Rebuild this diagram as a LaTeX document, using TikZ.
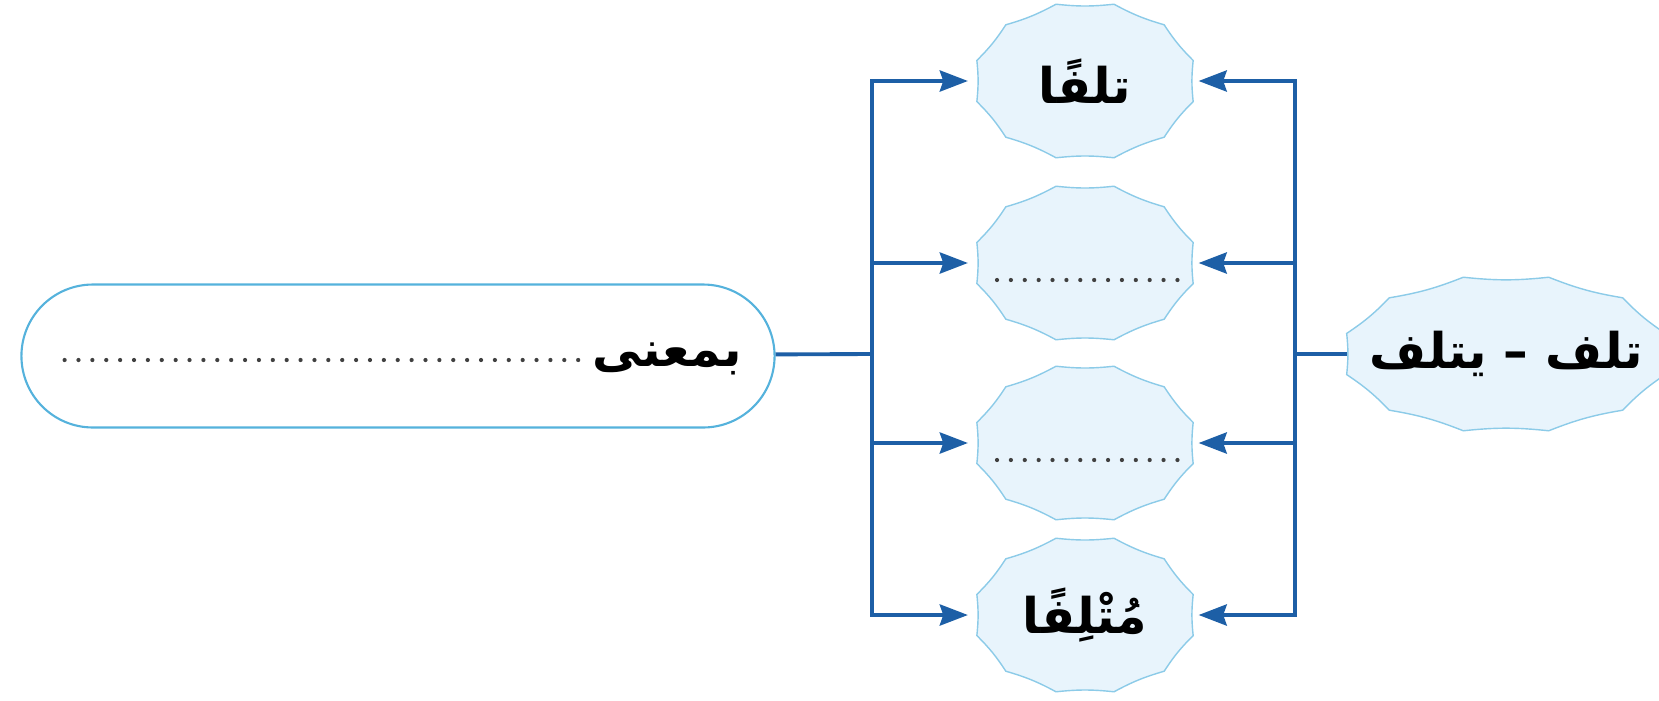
\documentclass[tikz,border=0pt]{standalone}
\usepackage{fontspec}
\newfontfamily\arabicfont[Script=Arabic]{DejaVu Sans}
\TeXXeTstate=1
\usetikzlibrary{arrows.meta,calc,backgrounds,shapes.misc}
\definecolor{leafblue}{HTML}{E8F4FC}
\definecolor{leafedge}{HTML}{8CCBE8}
\definecolor{linkblue}{HTML}{1D5FA6}
\definecolor{boxedge}{HTML}{55B2DC}

\begin{document}
\begin{tikzpicture}[x=0.02cm, y=-0.02cm,
  word/.style={rectangle, inner sep=0pt, minimum width=4.32cm, minimum height=3.1cm,
    font=\arabicfont\bfseries\fontsize{28}{33}\selectfont},
  link/.style={draw=linkblue, line width=2.2pt},
  arr/.style={link, -{Stealth[length=16pt, width=12pt, inset=2pt]}},
  dots/.style={draw=black!75, line width=2.4pt, dash pattern=on 0pt off 7.9pt, line cap=round}]
\useasboundingbox (0,0) rectangle (1659,700);

% the four forms and the verb
\node[word] (w1) at (1085,81) {\beginR تلفًا\endR};
\node[word] (w2) at (1085,263) {};
\node[word] (w3) at (1085,443) {};
\node[word] (w4) at (1085,615) {\beginR مُتْلِفًا\endR};
\node[word, minimum width=6.36cm] (src) at (1506,354) {\beginR تلف – يتلف\endR};

\begin{scope}[on background layer]
\foreach \w/\rx in {w1/2.24,w2/2.24,w3/2.24,w4/2.24,src/3.3}{
  \path[fill=leafblue, draw=leafedge, line width=0.8pt]
    ($(\w)+(15:\rx cm and 1.59cm)$)
    \foreach \k in {1,...,12}{ to[bend left=6] ($(\w)+({15+30*\k}:\rx cm and 1.59cm)$) }
    -- cycle;
}
\end{scope}

\draw[dots] ($(w2)+(-88,17)$) -- ($(w2)+(95,17)$);
\draw[dots] ($(w3)+(-88,17)$) -- ($(w3)+(95,17)$);

% meaning box
\node[draw=boxedge, line width=1.2pt, rounded rectangle, minimum width=15.3cm,
  minimum height=2.86cm] (mean) at (398,356) {};
\node[anchor=base east, inner sep=0pt, font=\arabicfont\bfseries\fontsize{28}{33}\selectfont]
  (bm) at (742,366) {\beginR بمعنى\endR};
\coordinate (dend) at (57,360);
\draw[dots] ([xshift=-8pt]bm.west |- dend) -- (dend);

% connectors
\coordinate (lbus) at (872,354);
\coordinate (rbus) at (1295,354);
\draw[link] (mean) -- (lbus);
\draw[link] (src) -- (rbus);
\draw[arr] (lbus |- w4) -- (lbus |- w1) -- ([xshift=-5pt]w1.west);
\draw[arr] (lbus) -- (lbus |- w4) -- ([xshift=-5pt]w4.west);
\draw[arr] (rbus |- w4) -- (rbus |- w1) -- ([xshift=3pt]w1.east);
\draw[arr] (rbus) -- (rbus |- w4) -- ([xshift=3pt]w4.east);
\foreach \w in {w2,w3}{
  \draw[arr] (lbus |- \w) -- ([xshift=-5pt]\w.west);
  \draw[arr] (rbus |- \w) -- ([xshift=3pt]\w.east);
}
\end{tikzpicture}
\end{document}
